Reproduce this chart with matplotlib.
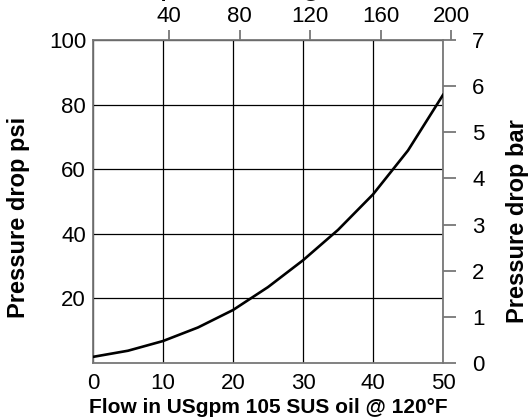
import matplotlib
matplotlib.use("Agg")
import matplotlib.pyplot as plt

# Dados
vazao_gpm = [0, 5, 10, 15, 20, 25, 30, 35, 40, 45, 50]
queda_psi = [1.9, 3.8, 6.8, 11.0, 16.4, 23.5, 31.8, 41.2, 52.2, 65.8, 83.0]

ticks_gpm = [0, 10, 20, 30, 40, 50]
ticks_psi = [20, 40, 60, 80, 100]
ticks_bar = [0, 1, 2, 3, 4, 5, 6, 7]
ticks_lpm = [40, 80, 120, 160, 200]

plt.rcParams['font.family'] = ['Liberation Sans', 'DejaVu Sans']
fs = 16
cinza = '#777777'

fig = plt.figure(figsize=(5.3, 4.18), dpi=100)
ax = fig.add_axes([93 / 530, 55 / 418, 350 / 530, 323 / 418])

# Curva principal
ax.plot(vazao_gpm, queda_psi, color='black', lw=1.9, zorder=3)

ax.set_xlim(0, 50)
ax.set_ylim(0, 100)
ax.set_xticks(ticks_gpm)
ax.set_yticks(ticks_psi)
ax.tick_params(axis='both', length=0, labelsize=fs)
ax.tick_params(axis='x', pad=7)
ax.tick_params(axis='y', pad=5)
ax.grid(True, color='black', lw=0.9)
for s in ax.spines.values():
    s.set_color(cinza)
    s.set_linewidth(1.3)

ax.set_xlabel('Flow in USgpm 105 SUS oil @ 120°F', fontsize=15,
              fontweight='bold', labelpad=3)
ax.set_ylabel('Pressure drop psi', fontsize=17, fontweight='bold')
ax.yaxis.set_label_coords(-0.18, 0.452)

# Eixo direito em bar
ax2 = ax.twinx()
ax2.set_ylim(0, 7)
ax2.set_yticks(ticks_bar)
ax2.tick_params(axis='y', length=9, width=1.3, color=cinza, labelsize=fs,
                pad=12)
for s in ax2.spines.values():
    s.set_visible(False)
ax2.set_ylabel('Pressure drop bar', fontsize=17, fontweight='bold')
ax2.yaxis.set_label_coords(1.18, 0.44)

# Eixo superior em lpm (desenhado à parte)
ax3 = fig.add_axes([98.5 / 530, 55 / 418, 352.5 / 530, 323 / 418])
ax3.set_xlim(0, 200)
ax3.set_xticks(ticks_lpm)
ax3.patch.set_visible(False)
ax3.set_frame_on(False)
ax3.set_yticks([])
ax3.tick_params(axis='x', bottom=False, labelbottom=False, top=True,
                labeltop=True, length=7, width=1.3, color=cinza,
                labelsize=fs, pad=2)

# Título cortado no topo
fig.text(77 / 530, 1 + 3 / 418, 'Flow in lpm, 22 cSt oil @ 49°C',
         fontsize=15, fontweight='bold', ha='left', va='baseline')

fig.savefig('out.png', dpi=100)
